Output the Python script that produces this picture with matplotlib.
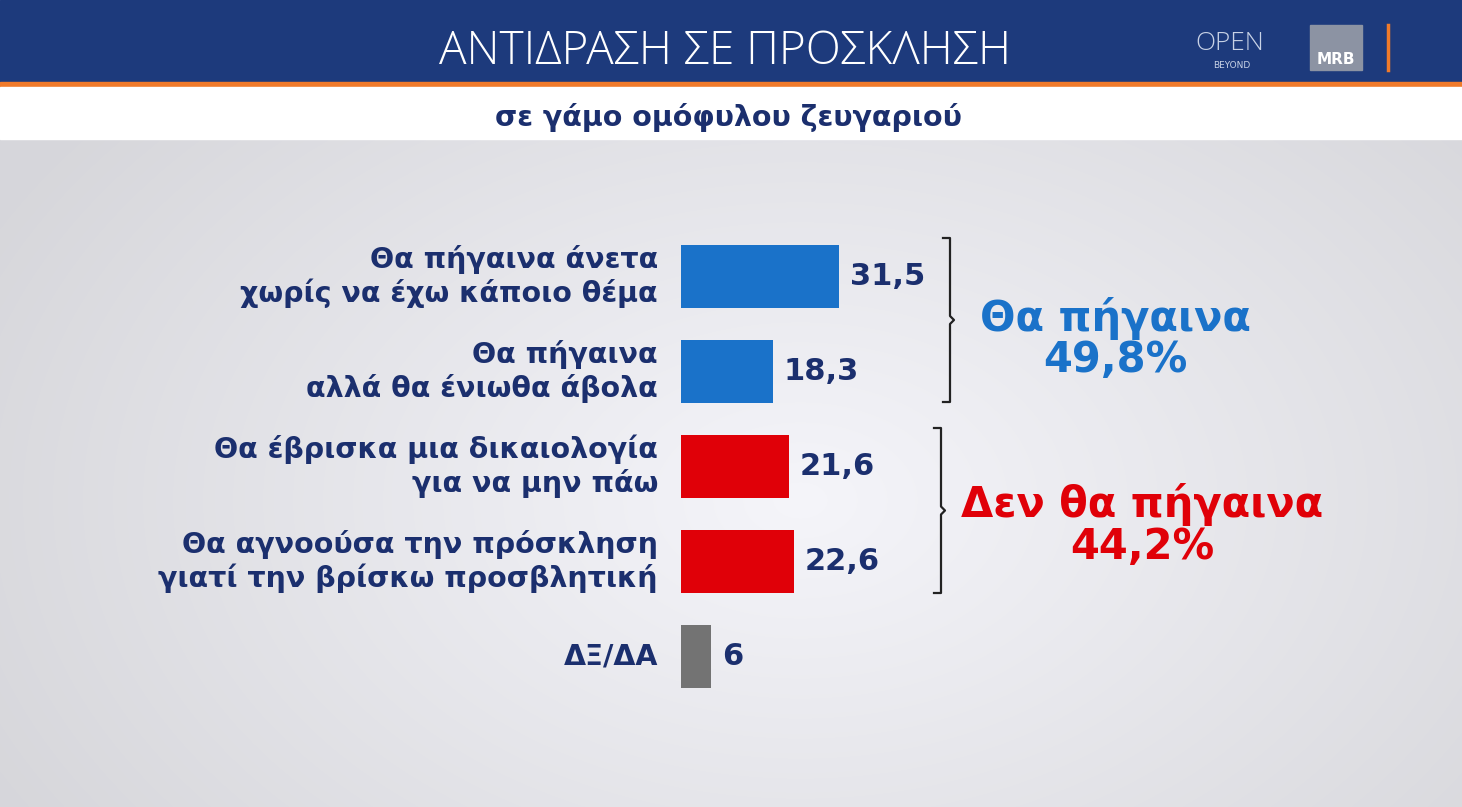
import numpy as np
import matplotlib
matplotlib.use('Agg')
import matplotlib.pyplot as plt
from matplotlib.patches import Rectangle

# data
labels = ['Θα πήγαινα άνετα\nχωρίς να έχω κάποιο θέμα',
          'Θα πήγαινα\nαλλά θα ένιωθα άβολα',
          'Θα έβρισκα μια δικαιολογία\nγια να μην πάω',
          'Θα αγνοούσα την πρόσκληση\nγιατί την βρίσκω προσβλητική',
          'ΔΞ/ΔΑ']
values = [31.5, 18.3, 21.6, 22.6, 6]
value_labels = ['31,5', '18,3', '21,6', '22,6', '6']
colors = ['#1a72c9', '#1a72c9', '#e00008', '#e00008', '#737373']
groups = [('Θα πήγαινα', '49,8%', '#1a72c9'), ('Δεν θα πήγαινα', '44,2%', '#e00008')]

W, H = 1462, 807
NAVY = '#1b2f6e'
fig = plt.figure(figsize=(W / 100, H / 100), dpi=100)

# background layer in pixel coords
bg = fig.add_axes([0, 0, 1, 1])
bg.set_xlim(0, W)
bg.set_ylim(H, 0)
bg.axis('off')
yy, xx = np.mgrid[0:H, 0:W]
grad = 0.86 + 0.12 * np.clip(1 - np.hypot((xx - 800) / 900, (yy - 500) / 600), 0, 1)
bg.imshow(np.dstack([grad * 0.98, grad * 0.98, grad]), extent=(0, W, H, 0), aspect='auto', zorder=0)
bg.add_patch(Rectangle((0, 0), W, 82, color='#1d3a7c', zorder=1))
bg.add_patch(Rectangle((0, 82), W, 5, color='#f07a2a', zorder=1))
bg.add_patch(Rectangle((0, 87), W, 52, color='white', zorder=1))
bg.text(725, 52, 'ΑΝΤΙΔΡΑΣΗ ΣΕ ΠΡΟΣΚΛΗΣΗ', color='white', fontsize=33, ha='center', va='center',
        family='Open Sans', fontweight='light', zorder=2)
bg.text(728, 117, 'σε γάμο ομόφυλου ζευγαριού', color=NAVY, fontsize=20.5, ha='center', va='center',
        fontweight='bold', zorder=2)
# logos
bg.text(1230, 44, 'OPEN', color='#c8d2e6', fontsize=19, ha='center', va='center', family='Open Sans',
        fontweight='light', zorder=2)
bg.text(1232, 65, 'BEYOND', color='#c8d2e6', fontsize=6.5, ha='center', va='center', zorder=2)
bg.add_patch(Rectangle((1310, 25), 52, 45, color='#8c93a3', zorder=2))
bg.text(1336, 60, 'MRB', color='white', fontsize=11, ha='center', va='center', fontweight='bold', zorder=3)
bg.plot([1388, 1388], [25, 70], color='#f07a2a', lw=2.5, zorder=2)

# brackets
def bracket(x, y0, y1):
    mid = (y0 + y1) / 2
    bg.plot([x - 7, x, x, x + 4, x, x, x - 7], [y0, y0, mid - 4, mid, mid + 4, y1, y1],
            color='#222222', lw=1.6, zorder=2)

bracket(950, 238, 402)
bracket(941, 428, 593)
for (name, pct, c), cx, cy in zip(groups, [1115, 1142], [318, 505]):
    bg.text(cx, cy, name, color=c, fontsize=30, fontweight='bold', ha='center', va='center', zorder=2)
    bg.text(cx, cy + 42, pct, color=c, fontsize=30, fontweight='bold', ha='center', va='center', zorder=2)

# bars: 5 px per unit, rows 95 px apart
ax = fig.add_axes([681 / W, 1 - 704 / H, 500 / W, 475 / H])
ax.patch.set_alpha(0)
ax.set_xlim(0, 100)
ax.set_ylim(4.5, -0.5)
ax.axis('off')
ys = np.arange(len(values))
ax.barh(ys, values, height=0.66, color=colors)
for y, v, vl, lab in zip(ys, values, value_labels, labels):
    ax.text(v + 2.2, y, vl, color=NAVY, fontsize=22, fontweight='bold', va='center', ha='left')
    ax.text(-4.6, y, lab, color=NAVY, fontsize=20.5, fontweight='bold', va='center', ha='right',
            multialignment='right', linespacing=1.2)

fig.savefig('out.png', dpi=100)
